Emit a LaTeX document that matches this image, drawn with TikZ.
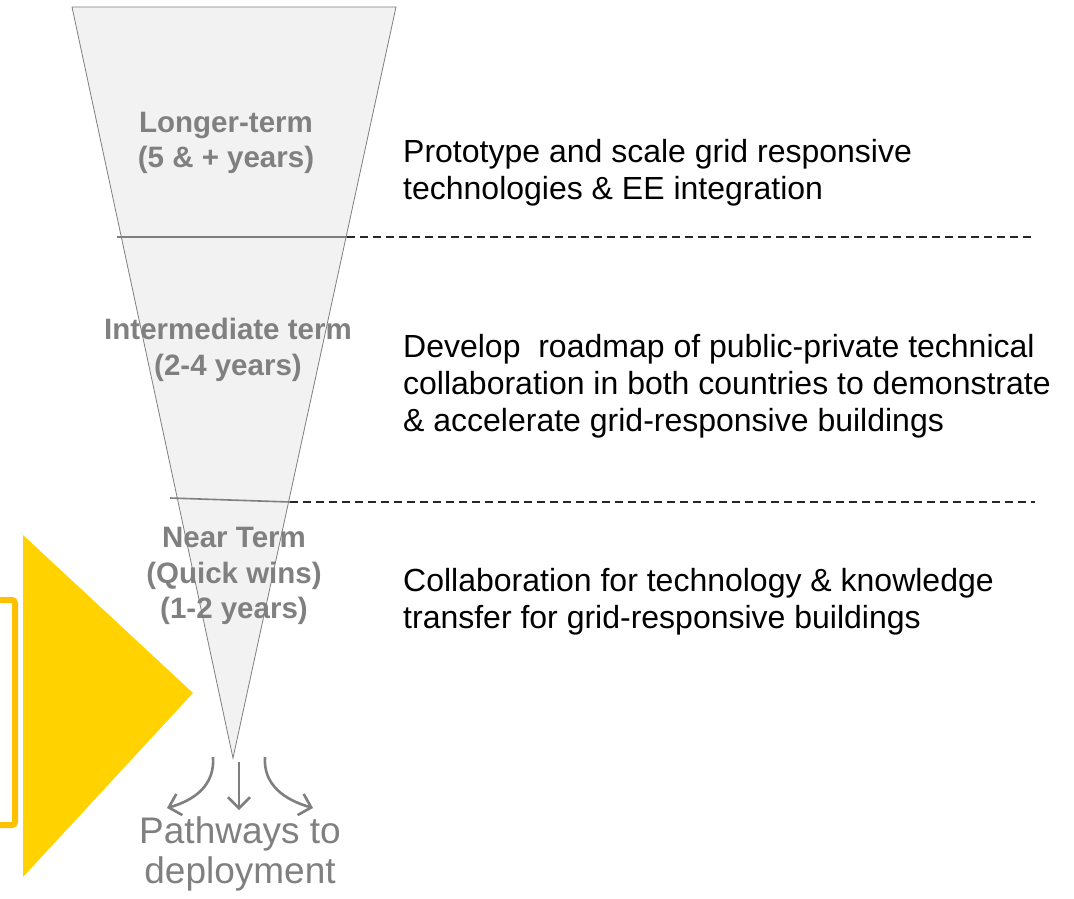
\documentclass[tikz,border=0pt]{standalone}
\usepackage{fontspec}
\setmainfont{Liberation Sans}
\usetikzlibrary{arrows.meta}
\definecolor{funnelgray}{HTML}{F2F2F2}
\definecolor{labelgray}{HTML}{808080}
\definecolor{edgegray}{HTML}{7F7F7F}
\definecolor{goldyellow}{HTML}{FFD200}
\definecolor{bracketorange}{HTML}{FFC000}
\begin{document}
\begin{tikzpicture}
[x=1pt,y=-1pt,
 term/.style={text=labelgray,font=\bfseries\fontsize{29.5}{35.5}\selectfont,align=center,inner sep=0},
 goal/.style={anchor=west,font=\fontsize{32}{37}\selectfont,align=left,inner sep=0},
 split/.style={draw=edgegray,line width=1.6pt},
 guide/.style={draw=black!85,line width=1.2pt,dash pattern=on 8pt off 5pt},
 flow/.style={draw=edgegray,line width=2.6pt,-{Straight Barb[length=11pt,width=22pt,line width=2.6pt]}}]
\useasboundingbox (0,0) rectangle (1074,898);

\fill[goldyellow] (23,535) -- (193,693) -- (23,877) -- cycle;
\draw[bracketorange,line width=6pt,rounded corners=3pt] (-10,600) -- (15,600) -- (15,825) -- (-10,825);

\filldraw[fill=funnelgray,draw=edgegray,line width=0.8pt] (72,7) -- (396,7) -- (233,758) -- cycle;

\coordinate (s1) at (117,237);
\coordinate (e1) at (347,237);
\coordinate (d1) at (1035,237);
\coordinate (s2) at (170,498);
\coordinate (e2) at (290,502);
\coordinate (d2) at (1035,502);
\foreach \from/\to in {s1/e1,s2/e2}
\draw[split] (\from) -- (\to);
\foreach \from/\to in {e1/d1,e2/d2}
\draw[guide] (\from) -- (\to);

\node[term] (longer) at (226,143) {Longer-term\\(5 \& + years)};
\node[term] (inter) at (228,350) {Intermediate term\\(2-4 years)};
\node[term] (near) at (234,576) {Near Term\\(Quick wins)\\(1-2 years)};

\node[goal] (proto) at (403,173) {Prototype and scale grid responsive\\technologies \& EE integration};
\node[goal] (roadmap) at (403,386) {Develop\ \ roadmap of public-private technical\\collaboration in both countries to demonstrate\\\& accelerate grid-responsive buildings};
\node[goal] (collab) at (403,602) {Collaboration for technology \& knowledge\\transfer for grid-responsive buildings};

\node[text=labelgray,font=\fontsize{37}{40}\selectfont,align=center,inner sep=0] (pathways) at (240,854) {Pathways to\\deployment};

\coordinate (lstart) at (213,757);
\coordinate (lend) at (167,808);
\coordinate (mstart) at (239,762);
\coordinate (mend) at (239,810);
\coordinate (rstart) at (265,757);
\coordinate (rend) at (313,808);
\draw[flow] (lstart) .. controls (215,785) and (195,800) .. (lend);
\draw[flow] (mstart) -- (mend);
\draw[flow] (rstart) .. controls (263,785) and (285,800) .. (rend);
\end{tikzpicture}
\end{document}
